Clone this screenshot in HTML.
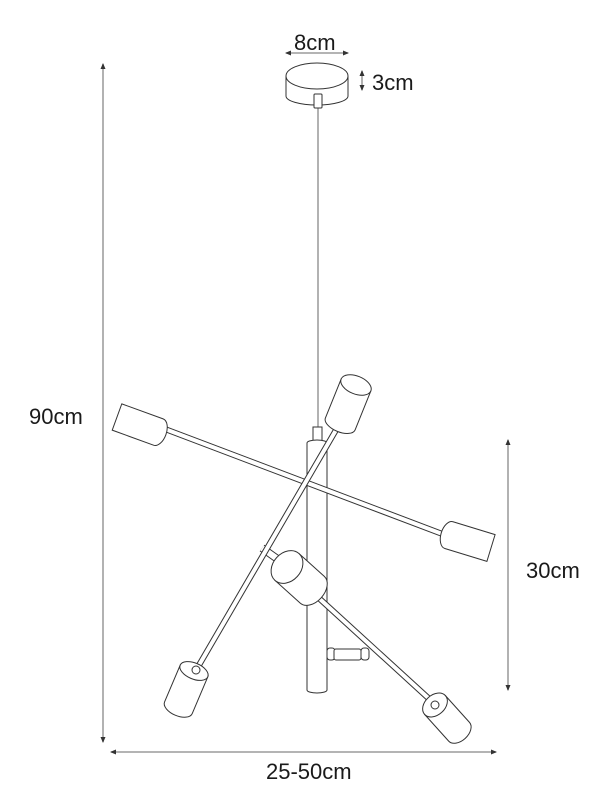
<!DOCTYPE html>
<html><head><meta charset="utf-8"><style>
html,body{margin:0;padding:0;background:#fff}
svg{display:block}
text{font-family:"Liberation Sans",Arial,sans-serif;fill:#1a1a1a}
</style></head><body>
<svg width="614" height="809" viewBox="0 0 614 809" xmlns="http://www.w3.org/2000/svg">
<defs>
<marker id="ah" markerWidth="6" markerHeight="6" refX="5" refY="3" orient="auto-start-reverse" markerUnits="userSpaceOnUse"><path d="M0,0.5 L6,3 L0,5.5 z" fill="#333"/></marker>
</defs>
<g stroke="#888" stroke-width="1.3" fill="none">
<line x1="103" y1="64" x2="103" y2="742" marker-start="url(#ah)" marker-end="url(#ah)"/>
<line x1="111" y1="752" x2="496" y2="752" marker-start="url(#ah)" marker-end="url(#ah)"/>
<line x1="508" y1="440" x2="508" y2="690" marker-start="url(#ah)" marker-end="url(#ah)"/>
<line x1="286" y1="53" x2="348" y2="53" marker-start="url(#ah)" marker-end="url(#ah)"/>
<line x1="362" y1="71" x2="362" y2="90" marker-start="url(#ah)" marker-end="url(#ah)"/>
</g>
<text x="294" y="50" font-size="22">8cm</text>
<text x="372" y="90" font-size="22">3cm</text>
<text x="29" y="424" font-size="22">90cm</text>
<text x="526" y="578" font-size="22">30cm</text>
<text x="266" y="779" font-size="22">25-50cm</text>

<g stroke="#333" stroke-width="1" fill="#fff">
<!-- canopy -->
<path d="M286,76 L286,96 A31,9 0 0 0 348,96 L348,76"/>
<ellipse cx="317" cy="76" rx="31" ry="13"/>
<line x1="318" y1="100" x2="318" y2="430" stroke="#666"/>
<rect x="314" y="94" width="8" height="14" rx="1"/>
<!-- tube -->
<rect x="313" y="427" width="9" height="14"/>
<path d="M307,443 L307,690 A10,3 0 0 0 327,690 L327,443 A10,3 0 0 0 307,443 Z"/>
<!-- small connector -->
<rect x="327" y="648" width="8" height="12" rx="3"/>
<rect x="334" y="649" width="27" height="11" rx="2"/>
<rect x="361" y="648" width="8" height="12" rx="3"/>
<!-- arm1 rod -->
<line x1="165" y1="429" x2="445" y2="535" stroke-width="6" stroke="#333"/>
<line x1="165" y1="429" x2="445" y2="535" stroke-width="4" stroke="#fff"/>
<!-- arm3 rod stub behind -->
<line x1="262" y1="548" x2="300" y2="575" stroke-width="8" stroke="#333"/>
<line x1="262" y1="548" x2="300" y2="575" stroke-width="6" stroke="#fff"/>
<!-- arm3 rod -->
<line x1="310" y1="590" x2="437" y2="706" stroke-width="6" stroke="#333"/>
<line x1="310" y1="590" x2="437" y2="706" stroke-width="4" stroke="#fff"/>
<!-- left shade -->
<g transform="translate(117,417) rotate(20)">
<path d="M0,-14 L44,-14 A8,14 0 0 1 44,14 L0,14 Z"/>
</g>
<!-- right shade -->
<g transform="translate(491,548) rotate(197)">
<path d="M0,-14 L44,-14 A8,14 0 0 1 44,14 L0,14 Z"/>
</g>
<!-- bottom-right shade -->
<g transform="translate(435,705) rotate(48)">
<path d="M0,-14 L36,-14 A9,14 0 0 1 36,14 L0,14 Z"/>
<ellipse cx="0" cy="0" rx="10" ry="14"/>
</g>
<circle cx="435" cy="705" r="4"/>
<!-- middle shade -->
<g transform="translate(287,567) rotate(42)">
<path d="M0,-18 L34,-18 A12,18 0 0 1 34,18 L0,18 Z"/>
<ellipse cx="0" cy="0" rx="14" ry="18"/>
</g>
<!-- arm2 rod -->
<line x1="336" y1="430" x2="195" y2="672" stroke-width="6" stroke="#333"/>
<line x1="336" y1="430" x2="195" y2="672" stroke-width="4" stroke="#fff"/>
<!-- top shade -->
<g transform="translate(356,385) rotate(112)">
<path d="M0,-16 L42,-16 A8,16 0 0 1 42,16 L0,16 Z"/>
<ellipse cx="0" cy="0" rx="9" ry="16"/>
</g>
<!-- bottom-left shade -->
<g transform="translate(194,671) rotate(113)">
<path d="M0,-15 L40,-15 A8,15 0 0 1 40,15 L0,15 Z"/>
<ellipse cx="0" cy="0" rx="8" ry="15"/>
</g>
<circle cx="196" cy="670" r="4"/>
</g>
</svg>
</body></html>
